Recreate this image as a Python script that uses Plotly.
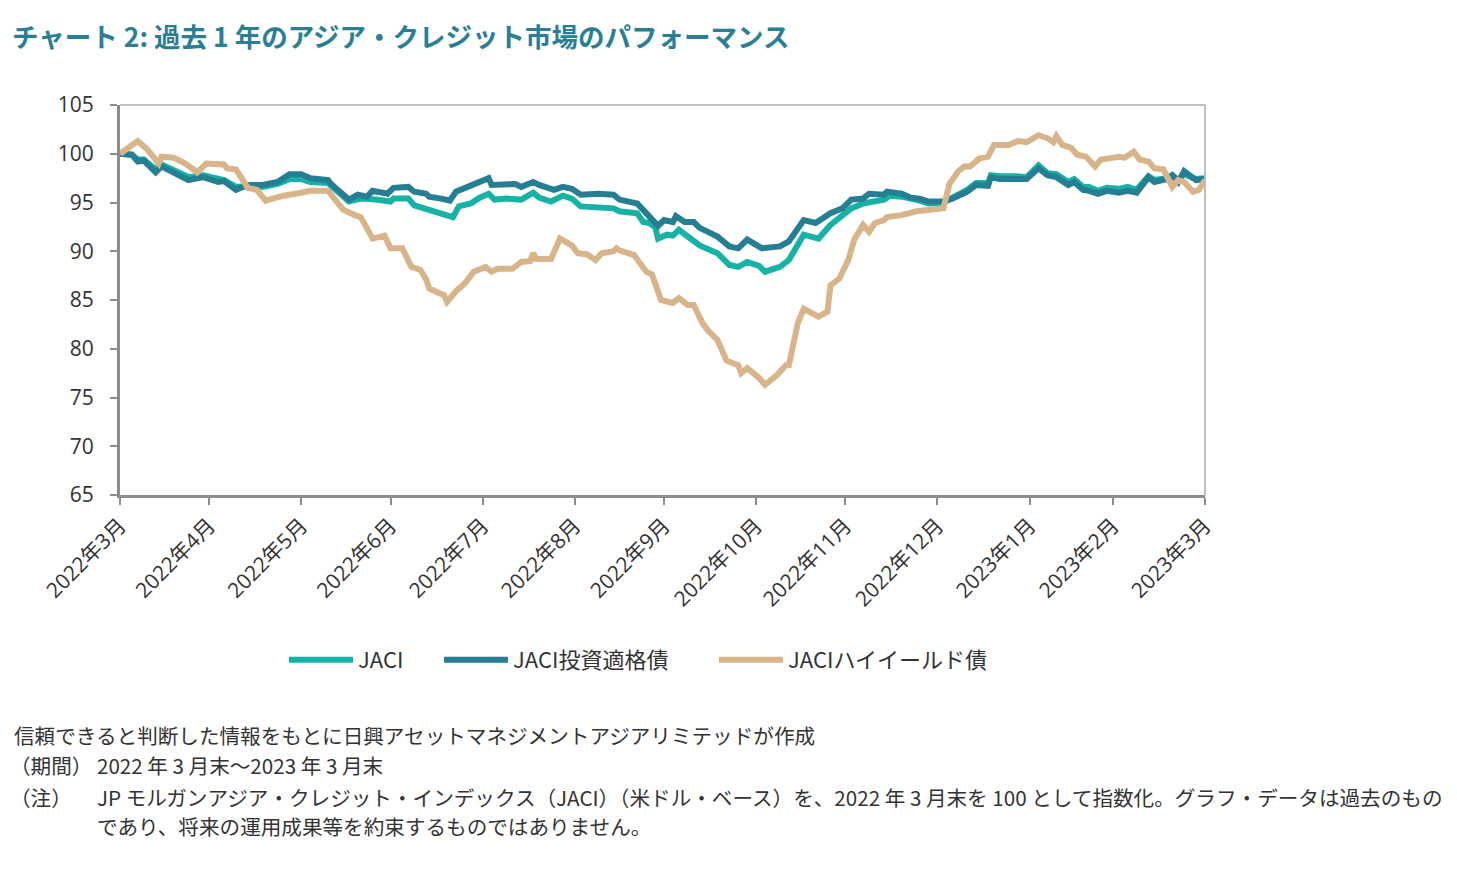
import plotly.graph_objects as go

# ---- data ----
jaci_dates = ["2022-03-31","2022-04-04","2022-04-06","2022-04-08","2022-04-12","2022-04-14","2022-04-21","2022-04-23","2022-04-28",
 "2022-05-03","2022-05-05","2022-05-09","2022-05-13","2022-05-18","2022-05-23","2022-05-27","2022-05-31","2022-06-03","2022-06-09",
 "2022-06-16","2022-06-20","2022-06-25","2022-06-30","2022-07-01","2022-07-06","2022-07-08","2022-07-13","2022-07-19","2022-07-21",
 "2022-07-23","2022-07-27","2022-07-30","2022-08-02","2022-08-04","2022-08-08","2022-08-13","2022-08-17","2022-08-19","2022-08-23",
 "2022-08-27","2022-08-30","2022-09-02","2022-09-06","2022-09-13","2022-09-15","2022-09-21","2022-09-23","2022-09-25","2022-09-27",
 "2022-09-28","2022-10-01","2022-10-03","2022-10-05","2022-10-10","2022-10-12","2022-10-18","2022-10-22","2022-10-25","2022-10-28",
 "2022-11-01","2022-11-03","2022-11-08","2022-11-11","2022-11-16","2022-11-21","2022-11-25","2022-12-02","2022-12-06","2022-12-13",
 "2022-12-15","2022-12-19","2022-12-25","2022-12-28","2023-01-02","2023-01-05","2023-01-10","2023-01-13","2023-01-17","2023-01-18",
 "2023-01-21","2023-01-26","2023-01-30","2023-02-03","2023-02-06","2023-02-09","2023-02-13","2023-02-15","2023-02-18","2023-02-20",
 "2023-02-23","2023-02-26","2023-03-02","2023-03-05","2023-03-08","2023-03-12","2023-03-14","2023-03-18","2023-03-20","2023-03-22",
 "2023-03-24","2023-03-28","2023-03-31"]
jaci_values = [100.0,99.9,99.4,99.4,98.4,98.9,97.9,97.6,97.8,
 97.4,97.3,96.6,96.7,96.6,96.9,97.4,97.4,97.1,97.0,
 95.1,95.4,95.3,95.1,95.4,95.4,94.7,94.2,93.7,93.5,
 94.6,94.9,95.5,95.9,95.3,95.4,95.3,96.0,95.5,95.1,
 95.7,95.4,94.6,94.5,94.4,94.1,93.9,93.0,92.9,92.5,
 91.3,91.7,91.6,92.2,91.0,90.6,89.8,88.6,88.4,88.9,
 88.5,87.9,88.4,89.1,91.7,91.3,92.7,94.4,94.9,95.3,
 95.7,95.6,95.2,94.9,95.0,95.5,96.3,97.0,97.0,97.8,
 97.7,97.7,97.6,98.8,98.0,97.9,97.1,97.4,96.6,96.6,
 96.2,96.5,96.4,96.6,96.3,97.7,97.3,97.5,97.8,97.3,
 97.9,97.4,97.5]

ig_dates = ["2022-03-31","2022-04-04","2022-04-06","2022-04-08","2022-04-12","2022-04-14","2022-04-21","2022-04-23","2022-04-28",
 "2022-05-03","2022-05-05","2022-05-09","2022-05-13","2022-05-18","2022-05-23","2022-05-27","2022-05-31","2022-06-03","2022-06-09",
 "2022-06-10","2022-06-16","2022-06-19","2022-06-22","2022-06-24","2022-06-29","2022-07-01","2022-07-06","2022-07-08","2022-07-12",
 "2022-07-13","2022-07-17","2022-07-20","2022-07-22","2022-07-26","2022-07-29","2022-08-02","2022-08-03","2022-08-07","2022-08-11",
 "2022-08-13","2022-08-17","2022-08-19","2022-08-24","2022-08-27","2022-08-30","2022-09-02","2022-09-08","2022-09-13","2022-09-15",
 "2022-09-21","2022-09-23","2022-09-25","2022-09-28","2022-09-30","2022-10-03","2022-10-04","2022-10-07","2022-10-10","2022-10-12",
 "2022-10-18","2022-10-22","2022-10-25","2022-10-28","2022-11-02","2022-11-08","2022-11-11","2022-11-16","2022-11-20","2022-11-25",
 "2022-11-29","2022-12-02","2022-12-06","2022-12-08","2022-12-13","2022-12-14","2022-12-19","2022-12-22","2022-12-25","2022-12-28",
 "2023-01-02","2023-01-05","2023-01-10","2023-01-13","2023-01-17","2023-01-18","2023-01-21","2023-01-26","2023-01-30","2023-02-03",
 "2023-02-06","2023-02-09","2023-02-13","2023-02-15","2023-02-18","2023-02-20","2023-02-23","2023-02-26","2023-03-02","2023-03-05",
 "2023-03-08","2023-03-12","2023-03-14","2023-03-18","2023-03-20","2023-03-22","2023-03-24","2023-03-28","2023-03-31"]
ig_values = [100.0,99.9,99.2,99.3,98.1,98.7,97.6,97.3,97.6,
 97.1,97.2,96.3,96.8,96.8,97.1,97.9,97.9,97.5,97.3,
 96.9,95.3,95.8,95.6,96.2,95.9,96.5,96.6,96.1,95.9,
 95.6,95.4,95.2,96.1,96.6,96.9,97.5,96.8,96.8,96.9,
 96.6,97.1,96.8,96.3,96.6,96.4,95.8,95.9,95.8,95.3,
 94.9,94.2,93.7,92.6,93.2,93.0,93.6,93.0,93.0,92.4,
 91.5,90.5,90.3,91.2,90.3,90.5,91.0,93.2,92.9,93.9,
 94.4,95.3,95.4,95.9,95.8,96.1,95.9,95.5,95.4,95.1,
 95.1,95.4,96.1,96.8,96.7,97.6,97.4,97.4,97.4,98.5,
 97.8,97.6,96.8,97.1,96.3,96.2,95.9,96.2,96.0,96.2,
 96.0,97.6,97.1,97.4,97.8,97.1,98.2,97.3,97.4]

hy_dates = ["2022-03-31","2022-04-03","2022-04-06","2022-04-09","2022-04-13","2022-04-14","2022-04-18","2022-04-22","2022-04-26",
 "2022-04-29","2022-05-03","2022-05-05","2022-05-06","2022-05-09","2022-05-13","2022-05-16","2022-05-19","2022-05-25","2022-05-31",
 "2022-06-03","2022-06-09","2022-06-14","2022-06-18","2022-06-20","2022-06-24","2022-06-28","2022-06-30","2022-07-04","2022-07-07",
 "2022-07-10","2022-07-12","2022-07-13","2022-07-15","2022-07-18","2022-07-19","2022-07-22","2022-07-25","2022-07-28","2022-08-01",
 "2022-08-03","2022-08-05","2022-08-10","2022-08-13","2022-08-16","2022-08-17","2022-08-18","2022-08-23","2022-08-26","2022-08-30",
 "2022-09-01","2022-09-04","2022-09-07","2022-09-09","2022-09-13","2022-09-14","2022-09-15","2022-09-20","2022-09-24","2022-09-26",
 "2022-09-29","2022-10-03","2022-10-05","2022-10-08","2022-10-10","2022-10-13","2022-10-15","2022-10-18","2022-10-21","2022-10-25",
 "2022-10-26","2022-10-28","2022-11-01","2022-11-03","2022-11-05","2022-11-07","2022-11-10","2022-11-11","2022-11-14","2022-11-16",
 "2022-11-21","2022-11-24","2022-11-25","2022-11-28","2022-12-01","2022-12-03","2022-12-06","2022-12-08","2022-12-10","2022-12-13",
 "2022-12-14","2022-12-19","2022-12-24","2022-12-28","2023-01-02","2023-01-04","2023-01-07","2023-01-09","2023-01-11","2023-01-14",
 "2023-01-17","2023-01-19","2023-01-24","2023-01-27","2023-01-30","2023-02-03","2023-02-06","2023-02-08","2023-02-09","2023-02-11",
 "2023-02-14","2023-02-16","2023-02-19","2023-02-22","2023-02-24","2023-02-26","2023-03-02","2023-03-04","2023-03-07","2023-03-09",
 "2023-03-12","2023-03-14","2023-03-17","2023-03-20","2023-03-22","2023-03-24","2023-03-27","2023-03-29","2023-03-31"]
hy_values = [100.0,100.6,101.3,100.5,99.0,99.7,99.6,99.0,98.1,
 99.0,98.9,98.9,98.5,98.4,96.5,96.3,95.2,95.7,96.0,
 96.2,96.2,94.3,93.7,93.5,91.3,91.6,90.3,90.3,88.4,
 88.1,87.1,86.2,85.9,85.5,84.8,85.9,86.7,87.9,88.4,
 87.9,88.2,88.2,88.9,89.0,89.8,89.2,89.2,91.3,90.6,
 89.8,89.7,89.1,89.8,90.0,90.3,90.1,89.6,87.9,87.6,
 85.0,84.7,85.2,84.5,84.5,82.6,81.8,80.9,78.8,78.3,
 77.5,78.0,77.0,76.3,76.8,77.3,78.3,78.3,82.6,84.1,
 83.3,83.8,86.5,87.2,89.1,91.2,92.7,92.0,92.9,93.2,
 93.5,93.7,94.1,94.3,94.4,96.9,98.2,98.7,98.7,99.5,
 99.7,100.9,100.9,101.3,101.2,101.9,101.6,101.2,101.8,100.9,
 100.6,99.9,99.7,98.7,99.4,99.5,99.7,99.6,100.2,99.4,
 99.2,98.5,98.4,96.6,97.3,97.1,96.1,96.3,97.3]

tick_dates = ["2022-03-31","2022-04-30","2022-05-31","2022-06-30","2022-07-31","2022-08-31","2022-09-30",
              "2022-10-31","2022-11-30","2022-12-31","2023-01-31","2023-02-28","2023-03-31"]
tick_labels = ["2022年3月","2022年4月","2022年5月","2022年6月","2022年7月","2022年8月","2022年9月",
               "2022年10月","2022年11月","2022年12月","2023年1月","2023年2月","2023年3月"]

series_names = ["JACI", "JACI投資適格債", "JACIハイイールド債"]
series_colors = ["#17B2A6", "#267E93", "#D7B48A"]

title_text = "チャート 2: 過去 1 年のアジア・クレジット市場のパフォーマンス"
note_lines = [
    "信頼できると判断した情報をもとに日興アセットマネジメントアジアリミテッドが作成",
    "（期間）",
    "2022 年 3 月末～2023 年 3 月末",
    "（注）",
    "JP モルガンアジア・クレジット・インデックス（JACI）（米ドル・ベース）を、2022 年 3 月末を 100 として指数化。グラフ・データは過去のもの",
    "であり、将来の運用成果等を約束するものではありません。",
]

FONT = "Open Sans, Noto Sans CJK JP, sans-serif"
CJK = "Noto Sans CJK JP, sans-serif"

OFF = 8  # default page body margin
W, H = 1457 - 2 * OFF, 873 - 2 * OFF
L, R, T, B = 120 - OFF, 1205 - OFF, 105 - OFF, 495 - OFF

def px(x):
    return (x - OFF - L) / (R - L)

def py(y):
    return (B - (y - OFF)) / (B - T)

legend_ids = ["legend", "legend2", "legend3"]
legend_x = [284, 439, 714]

fig = go.Figure()
for name, xs, ys, col, lid in zip(series_names, [jaci_dates, ig_dates, hy_dates],
                                  [jaci_values, ig_values, hy_values], series_colors, legend_ids):
    fig.add_trace(go.Scatter(x=xs, y=ys, mode="lines", name=name, legend=lid,
                             line=dict(color=col, width=6)))

leg_common = dict(orientation="h", yanchor="middle", xanchor="left",
                  font=dict(family=CJK, size=22, color="#333333"), itemwidth=64,
                  bgcolor="rgba(0,0,0,0)")
layout_legends = {lid: dict(x=px(lx), y=py(660), **leg_common) for lid, lx in zip(legend_ids, legend_x)}

fig.update_layout(
    width=W, height=H,
    margin=dict(l=L, r=W - R, t=T, b=H - B),
    paper_bgcolor="white", plot_bgcolor="white",
    showlegend=True,
    font=dict(family=FONT, color="#333333"),
    **layout_legends,
)

fig.update_xaxes(type="date", range=["2022-03-31", "2023-03-31"],
                 tickmode="array", tickvals=tick_dates, ticktext=tick_labels,
                 tickangle=-45, tickfont=dict(family=FONT, size=21, color="#333333"),
                 ticks="outside", ticklen=7, tickwidth=2, tickcolor="#8C8C8C",
                 showline=True, linecolor="#8C8C8C", linewidth=3,
                 showgrid=False, zeroline=False)
fig.update_yaxes(range=[65, 105], dtick=5, tick0=65,
                 tickfont=dict(family=FONT, size=21, color="#333333"),
                 ticks="outside", ticklen=7, tickwidth=2, tickcolor="#8C8C8C",
                 ticklabelstandoff=12,
                 showline=True, linecolor="#8C8C8C", linewidth=3,
                 showgrid=False, zeroline=False)

# light frame on top and right
fig.add_shape(type="line", xref="paper", yref="paper", x0=0, x1=1, y0=1, y1=1,
              line=dict(color="#BFBFBF", width=2))
fig.add_shape(type="line", xref="paper", yref="paper", x0=1, x1=1, y0=0, y1=1,
              line=dict(color="#BFBFBF", width=2))

# title
fig.add_annotation(text="<b>" + title_text + "</b>", xref="paper", yref="paper",
                   x=px(10), y=py(36), xanchor="left", yanchor="middle", showarrow=False,
                   font=dict(family=CJK, size=26.5, color="#2A7F95"))

note_pos = [(12, 735), (8, 765), (95, 765), (8, 797), (95, 797), (95, 826)]
for txt, (nx, ny) in zip(note_lines, note_pos):
    fig.add_annotation(text=txt, xref="paper", yref="paper", x=px(nx), y=py(ny),
                       xanchor="left", yanchor="middle", showarrow=False,
                       font=dict(family=CJK, size=20.6, color="#333333"))

fig.write_html("out.html")
